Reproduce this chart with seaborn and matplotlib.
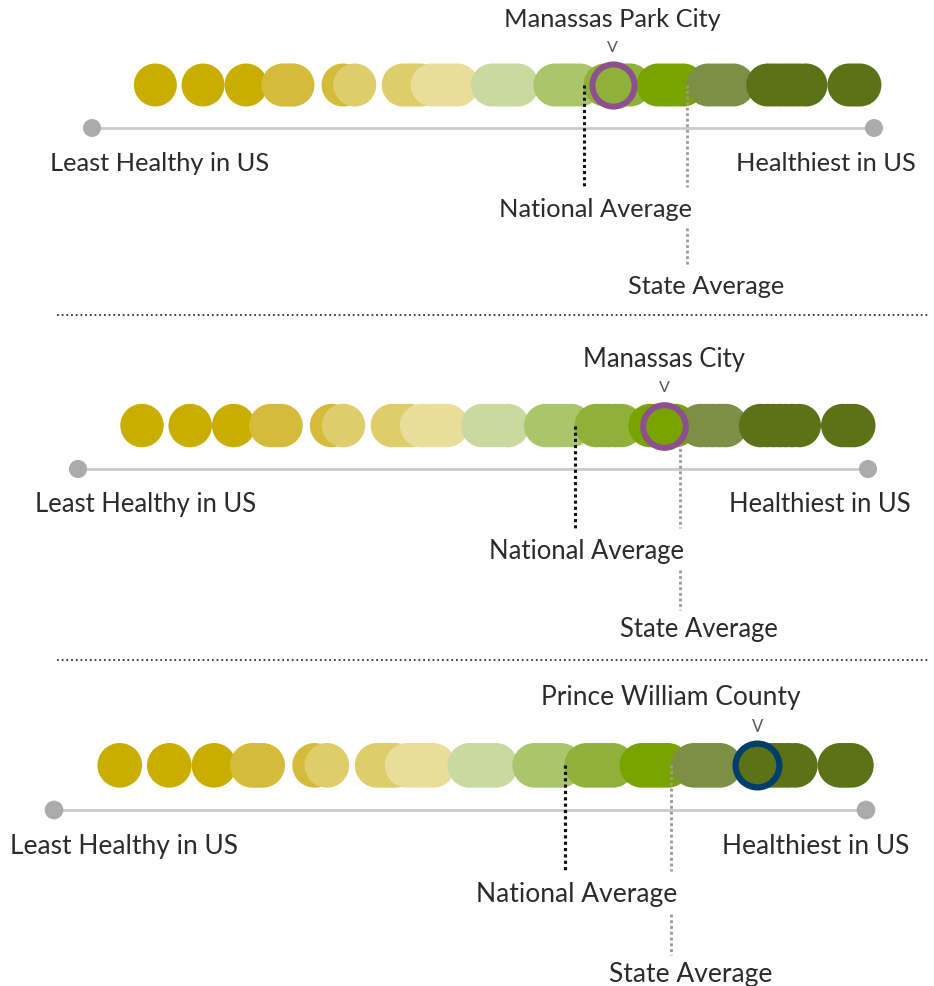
import matplotlib
matplotlib.use("Agg")
import matplotlib.pyplot as plt
import seaborn as sns
import pandas as pd
import numpy as np

sns.set_theme(style="white")
plt.rcParams['font.family'] = ['Lato', 'DejaVu Sans']

# ---- data (score scale: 0 = least healthy in US, 100 = healthiest in US) ----
dist_scores = [8.1, 14.2, 19.7,
               24.4, 25.1, 25.7, 32.1,
               33.6, 39.8, 40.6, 41.3, 42.0,
               43.5, 44.3, 45.1, 45.9, 46.7,
               51.2, 52.0, 52.8, 53.6, 54.4,
               59.2, 60.0, 60.8, 61.6, 62.4,
               65.6, 66.4, 67.2, 68.0, 68.8,
               72.4, 73.2, 74.0, 74.8, 75.6,
               78.8, 79.6, 80.4, 81.2, 82.0,
               86.4, 87.2, 88.0, 88.8, 89.6, 90.4, 91.3, 96.8, 97.5, 98.2]
dist_bucket = [0, 0, 0,
               1, 1, 1, 1,
               2, 2, 2, 2, 2,
               3, 3, 3, 3, 3,
               4, 4, 4, 4, 4,
               5, 5, 5, 5, 5,
               6, 6, 6, 6, 6,
               7, 7, 7, 7, 7,
               8, 8, 8, 8, 8,
               9, 9, 9, 9, 9, 9, 9, 9, 9, 9]
bucket_colors = ["#c9ae00", "#d4bc3a", "#dfcc6b", "#e8de9a", "#c9d9a0",
                 "#abc56a", "#8fb13a", "#78a300", "#7b8f45", "#5b7316"]

titles = ["Manassas Park City", "Manassas City", "Prince William County"]
highlight = [66.6, 74.2, 86.6]
national_avg = [62.9, 62.9, 62.9]
state_avg = [76.1, 76.2, 76.0]
ring_colors = ["#8e4f8f", "#8e4f8f", "#003f6b"]

left_label = "Least Healthy in US"
right_label = "Healthiest in US"
nat_label = "National Average"
state_label = "State Average"

# ---- layout (pixels) ----
W, H, DPI = 934, 986, 100
panels_px = [(92, 874, 128), (78, 868, 469), (54, 866, 810)]  # line left, right, y
separators_y = [315, 660]

fig = plt.figure(figsize=(W / DPI, H / DPI), dpi=DPI)

# background axes for separators (pixel coords)
bg = fig.add_axes([0, 0, 1, 1])
bg.set_xlim(0, W)
bg.set_ylim(H, 0)
bg.axis("off")
for yy in separators_y:
    bg.plot([57, 930], [yy, yy], color="#333333", lw=1.3, ls=(0, (1, 1.6)))

df = pd.DataFrame({"score": dist_scores, "bucket": dist_bucket})
df["y"] = 5.5

renderer = fig.canvas.get_renderer()
FW = "normal"

for i in range(3):
    lx, rx, ly = panels_px[i]
    s = (rx - lx) / 100.0          # px per unit
    k = s / 7.82                   # relative scale
    ax = fig.add_axes([0, 0, 1, 1])
    ax.patch.set_alpha(0)
    ax.set_xlim(-lx / s, (W - lx) / s)
    ax.set_ylim((ly - H) / s, ly / s)
    ax.axis("off")

    pt = 72.0 / DPI
    diam_pt = 2 * 2.75 * s * pt

    # axis line with end dots
    ax.plot([0, 100], [0, 0], color="#cbcbcb", lw=2.0 * k, solid_capstyle="butt", zorder=1)
    sns.scatterplot(x=[0, 100], y=[0, 0], ax=ax, s=(2 * 1.15 * s * pt) ** 2,
                    color="#ababab", edgecolor="none", linewidth=0, zorder=2, legend=False)

    # distribution circles
    sns.scatterplot(data=df, x="score", y="y", hue="bucket",
                    palette={b: c for b, c in enumerate(bucket_colors)},
                    s=diam_pt ** 2, edgecolor="none", linewidth=0, ax=ax,
                    legend=False, zorder=3)

    # highlighted place
    nearest = int(np.argmin(np.abs(np.array(dist_scores) - highlight[i])))
    fill = bucket_colors[dist_bucket[nearest]]
    ring_w = 6.0 * k * pt
    sns.scatterplot(x=[highlight[i]], y=[5.5], ax=ax, s=(diam_pt * 0.98) ** 2,
                    color=fill, edgecolor=ring_colors[i], linewidth=ring_w,
                    zorder=5, legend=False)

    # averages
    ax.plot([national_avg[i]] * 2, [5.5, -7.5], color="#111111", lw=2.2 * k,
            ls=(0, (1, 1)), zorder=4)
    ax.plot([state_avg[i]] * 2, [5.5, -7.5], color="#9a9a9a", lw=2.0 * k,
            ls=(0, (1, 1)), zorder=4)
    ax.plot([state_avg[i]] * 2, [-12.8, -17.8], color="#9a9a9a", lw=2.0 * k,
            ls=(0, (1, 1)), zorder=4)

    fs = 18.3 * k
    tc = "#2b2b2b"
    ax.text(-5.4, -4.5, left_label, ha="left", va="center", fontsize=fs, color=tc, fontweight=FW)
    ax.text(105.4, -4.5, right_label, ha="right", va="center", fontsize=fs, color=tc, fontweight=FW)
    ax.text(national_avg[i] + 1.5, -10.4, nat_label, ha="center", va="center",
            fontsize=fs, color=tc, fontweight=FW)
    ax.text(state_avg[i] + 2.4, -20.3, state_label, ha="center", va="center",
            fontsize=fs, color=tc, fontweight=FW)

    t = ax.text(highlight[i], 13.9, titles[i], ha="center", va="center",
                fontsize=fs, color=tc, fontweight=FW)
    bb = t.get_window_extent(renderer=renderer)
    limit_px = lx + 91.9 * s
    if bb.x1 > limit_px:
        t.set_ha("right")
        t.set_x(91.9)
    ax.text(highlight[i], 10.2, "V", ha="center", va="center",
            fontsize=11.5 * k, color="#555555", fontweight=FW)

fig.savefig("out.png", dpi=DPI)
